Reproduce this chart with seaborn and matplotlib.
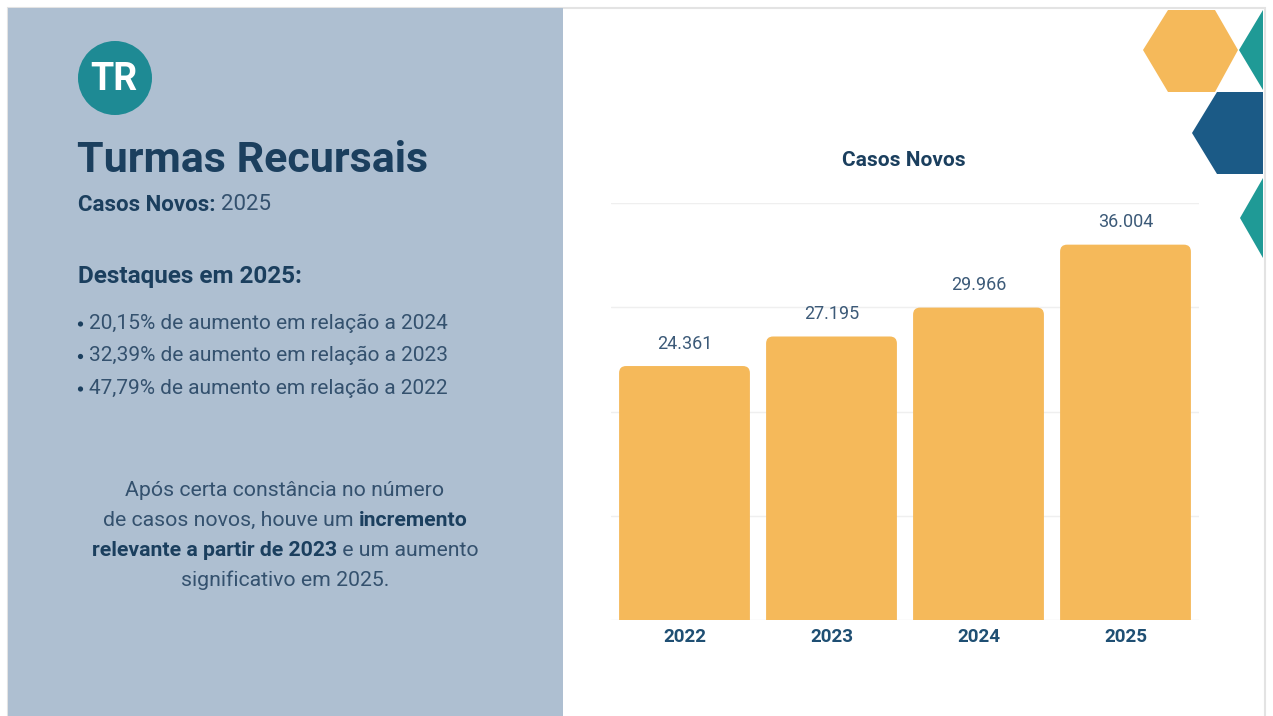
import matplotlib
matplotlib.use("Agg")
import matplotlib.pyplot as plt
import seaborn as sns
import pandas as pd
from matplotlib.patches import Polygon, Circle, Rectangle, FancyBboxPatch

# ---- data ----
years = ["2022", "2023", "2024", "2025"]
casos_novos = [24361, 27195, 29966, 36004]
value_labels = ["24.361", "27.195", "29.966", "36.004"]
bullets = [
    "20,15% de aumento em relação a 2024",
    "32,39% de aumento em relação a 2023",
    "47,79% de aumento em relação a 2022",
]

W, H = 1273, 716
sns.set_theme(style="white")
plt.rcParams['font.family'] = ['Roboto', 'DejaVu Sans']

fig = plt.figure(figsize=(W / 100, H / 100), dpi=100)
fig.patch.set_facecolor("white")

# background axes in pixel coordinates
bg = fig.add_axes([0, 0, 1, 1], zorder=0)
bg.set_xlim(0, W)
bg.set_ylim(H, 0)
bg.axis("off")

NAVY = "#1B3F5E"
TEXT = "#34516E"
YEAR = "#1F4F73"
BAR = "#F5B95A"

bg.add_patch(Rectangle((8, 8), 1257, 710, facecolor="white", edgecolor="#E3E3E3", lw=1.5))
bg.add_patch(Rectangle((8, 8), 555, 710, facecolor="#AEBFD1", edgecolor="none"))

# decorative shapes
bg.add_patch(Polygon([(1143, 50), (1168, 10), (1215, 10), (1238, 50), (1215, 92), (1168, 92)],
                     closed=True, facecolor=BAR, edgecolor="none"))
bg.add_patch(Polygon([(1239, 50), (1263, 10), (1263, 90)], closed=True, facecolor="#1F9A96", edgecolor="none"))
bg.add_patch(Polygon([(1192, 133), (1217, 92), (1263, 92), (1263, 174), (1217, 174)],
                     closed=True, facecolor="#1B5A86", edgecolor="none"))
bg.add_patch(Polygon([(1240, 218), (1263, 178), (1263, 258)], closed=True, facecolor="#1F9A96", edgecolor="none"))

# TR badge
bg.add_patch(Circle((115, 78), 37, facecolor="#1E8A94", edgecolor="none"))
bg.text(114, 79, "TR", color="white", fontsize=27, fontweight="bold", ha="center", va="center")

# left texts
bg.text(77, 160, "Turmas Recursais", color=NAVY, fontsize=31, fontweight="bold", va="center", ha="left")

renderer = fig.canvas.get_renderer()


def width_px(t):
    bb = t.get_window_extent(renderer=renderer)
    return bb.width


def draw_mixed(parts, x, y, align="left", size=13):
    # parts: list of (text, bold)
    objs = []
    for s, b in parts:
        t = bg.text(0, y, s, fontsize=size, fontweight="bold" if b else "normal",
                    color=NAVY if b else TEXT, va="center", ha="left")
        objs.append(t)
    widths = [width_px(t) for t in objs]
    total = sum(widths)
    cx = x - total / 2 if align == "center" else x
    for t, w in zip(objs, widths):
        t.set_x(cx)
        cx += w


draw_mixed([("Casos Novos: ", True), ("2025", False)], 78, 205, size=16)
bg.text(78, 277, "Destaques em 2025:", color=NAVY, fontsize=17.5, fontweight="bold", va="center")
for i, b in enumerate(bullets):
    yy = 323 + i * 32.5
    bg.add_patch(Circle((80.5, yy + 1), 2.6, facecolor=NAVY, edgecolor="none"))
    bg.text(89, yy, b, color=TEXT, fontsize=15, va="center")

para = [
    [("Após certa constância no número", False)],
    [("de casos novos, houve um ", False), ("incremento", True)],
    [("relevante a partir de 2023", True), (" e um aumento", False)],
    [("significativo em 2025.", False)],
]
for i, line in enumerate(para):
    draw_mixed(line, 285, 490 + i * 30, align="center", size=15.3)

# ---- chart ----
df = pd.DataFrame({"ano": years, "casos": casos_novos})
ax = fig.add_axes([611 / W, (H - 620) / H, 588 / W, 417 / H], zorder=2)
ax.patch.set_alpha(0)
sns.barplot(data=df, x="ano", y="casos", color=BAR, saturation=1, width=0.89, ax=ax)
ax.set_ylim(0, 40000)
ax.set_xlim(-0.5, 3.5)
ax.set_yticks([0, 10000, 20000, 30000, 40000])
ax.yaxis.grid(True, color="#EFEFEF", lw=1)
ax.set_axisbelow(True)
ax.set_yticklabels([])
ax.tick_params(axis="both", length=0)
ax.set_xlabel("")
ax.set_ylabel("")
for s in ax.spines.values():
    s.set_visible(False)
ax.set_xticks(range(len(years)))
ax.set_xticklabels(years, fontsize=13.5, fontweight="bold", color=YEAR)
ax.tick_params(axis="x", pad=6)

# rounded top corners
xpx = 4.0 / 588
ypx = 40000 / 417
bars = list(ax.patches)
for p in bars:
    x0, y0, w, h = p.get_x(), p.get_y(), p.get_width(), p.get_height()
    r = 7 * xpx
    fb = FancyBboxPatch((x0, y0 - 20 * ypx), w, h + 20 * ypx,
                        boxstyle=f"round,pad=0,rounding_size={r}",
                        mutation_aspect=ypx / xpx, facecolor=BAR, edgecolor="none", clip_on=True)
    ax.add_patch(fb)
    p.set_visible(False)

for i, (v, lab) in enumerate(zip(casos_novos, value_labels)):
    ax.annotate(lab, (i, v), xytext=(0, 16), textcoords="offset points",
                ha="center", va="center", fontsize=13, color="#3C5A78")

bg.text(904, 161, "Casos Novos", color=NAVY, fontsize=15, fontweight="bold", ha="center", va="center")

fig.savefig("out.png", dpi=100, facecolor="white")
